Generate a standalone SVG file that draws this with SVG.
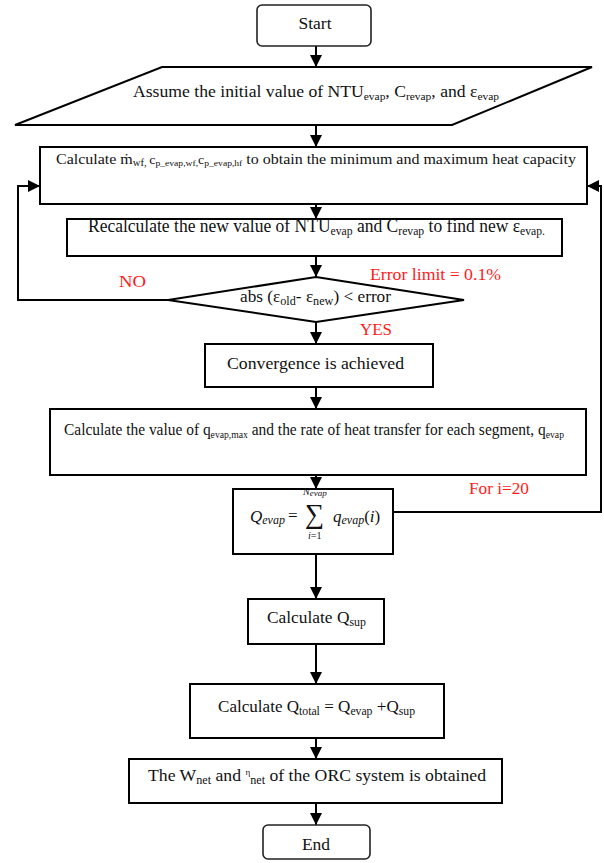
<svg xmlns="http://www.w3.org/2000/svg" width="604" height="863" viewBox="0 0 604 863" font-family="'Liberation Serif', 'DejaVu Serif', serif">
<defs>
<marker id="ah" markerUnits="userSpaceOnUse" markerWidth="12" markerHeight="12" refX="12" refY="6" orient="auto">
<path d="M0,0 L12,6 L0,12 z" fill="#000"/>
</marker>
<style>
.box{fill:#fff;stroke:#000;stroke-width:2}
.term{fill:#fff;stroke:#222;stroke-width:1.6}
.t{fill:#111}
.red{fill:#ff1a1a}
.ln{stroke:#000;stroke-width:2;fill:none}
.m{font-style:italic;fill:#111}
</style>
</defs>
<rect width="604" height="863" fill="#fff"/>

<g id="connectors">
<line class="ln" x1="316" y1="46" x2="316" y2="67" marker-end="url(#ah)"/>
<line class="ln" x1="316" y1="125" x2="316" y2="147" marker-end="url(#ah)"/>
<line class="ln" x1="316" y1="204" x2="316" y2="219" marker-end="url(#ah)"/>
<line class="ln" x1="316" y1="256" x2="316" y2="277" marker-end="url(#ah)"/>
<line class="ln" x1="316" y1="322" x2="316" y2="344" marker-end="url(#ah)"/>
<line class="ln" x1="316" y1="387" x2="316" y2="409" marker-end="url(#ah)"/>
<line class="ln" x1="316" y1="475" x2="316" y2="489" marker-end="url(#ah)"/>
<line class="ln" x1="316" y1="554" x2="316" y2="599" marker-end="url(#ah)"/>
<line class="ln" x1="316" y1="644" x2="316" y2="684" marker-end="url(#ah)"/>
<line class="ln" x1="316" y1="738" x2="316" y2="759" marker-end="url(#ah)"/>
<line class="ln" x1="316" y1="803" x2="316" y2="825" marker-end="url(#ah)"/>
<polyline class="ln" points="170,300 18,300 18,186 40,186" marker-end="url(#ah)"/>
<polyline class="ln" points="393,512 601,512 601,186 587,186" marker-end="url(#ah)"/>
</g>

<g id="start">
<rect class="term" x="257" y="5" width="114" height="41" rx="5"/>
<text class="t" x="315" y="29" font-size="17.5" text-anchor="middle">Start</text>
</g>

<g id="assume">
<polygon class="box" points="162,67 592,67 452,125 15,125"/>
<text class="t" x="133" y="97" font-size="17" textLength="366" lengthAdjust="spacingAndGlyphs">Assume the initial value of NTU<tspan font-size="11" dy="3">evap</tspan><tspan dy="-3">, C</tspan><tspan font-size="11" dy="3">revap</tspan><tspan dy="-3">, and ε</tspan><tspan font-size="11" dy="3">evap</tspan></text>
</g>

<g id="calc-m">
<rect class="box" x="40" y="147" width="547" height="57"/>
<text class="t" x="56" y="164" font-size="15" textLength="520" lengthAdjust="spacingAndGlyphs">Calculate ṁ<tspan font-size="10" dy="2">wf, </tspan><tspan font-size="13" dy="-2">c</tspan><tspan font-size="9" dy="2">p_evap,wf,</tspan><tspan font-size="13" dy="-2">c</tspan><tspan font-size="9" dy="2">p_evap,hf</tspan><tspan dy="-2"> to obtain the minimum and maximum heat capacity</tspan></text>
</g>

<g id="recalc">
<rect class="box" x="67" y="219" width="495" height="37"/>
<text class="t" x="88" y="232" font-size="18" textLength="457" lengthAdjust="spacingAndGlyphs">Recalculate the new value of NTU<tspan font-size="12" dy="3">evap</tspan><tspan dy="-3"> and C</tspan><tspan font-size="12" dy="3">revap</tspan><tspan dy="-3"> to find new ε</tspan><tspan font-size="12" dy="3">evap.</tspan></text>
</g>

<g id="decision">
<polygon class="box" points="316,277 464,300 316,322 168,300"/>
<text class="t" x="240" y="302" font-size="17" textLength="151" lengthAdjust="spacingAndGlyphs">abs (ε<tspan font-size="12" dy="3">old</tspan><tspan dy="-3">- ε</tspan><tspan font-size="12" dy="3">new</tspan><tspan dy="-3">) &lt; error</tspan></text>
<text class="red" x="119" y="287" font-size="17" textLength="27" lengthAdjust="spacingAndGlyphs">NO</text>
<text class="red" x="370" y="280" font-size="17" textLength="131" lengthAdjust="spacingAndGlyphs">Error limit = 0.1%</text>
<text class="red" x="360" y="335" font-size="17" textLength="32" lengthAdjust="spacingAndGlyphs">YES</text>
</g>

<g id="converge">
<rect class="box" x="205" y="344" width="228" height="43"/>
<text class="t" x="227" y="369" font-size="17.5" textLength="177" lengthAdjust="spacingAndGlyphs">Convergence is achieved</text>
</g>

<g id="calc-q">
<rect class="box" x="50" y="409" width="536" height="66"/>
<text class="t" x="64" y="435" font-size="16" textLength="500" lengthAdjust="spacingAndGlyphs">Calculate the value of q<tspan font-size="10" dy="3">evap,max</tspan><tspan dy="-3"> and the rate of heat transfer for each segment, q</tspan><tspan font-size="10" dy="3">evap</tspan></text>
</g>

<g id="sum">
<rect class="box" x="233" y="489" width="160" height="65"/>
<text class="m" x="250" y="522" font-size="17">Q<tspan font-size="12" dy="2">evap</tspan></text>
<text class="t" x="288" y="521" font-size="17">=</text>
<text class="t" x="305" y="523" font-size="27">∑</text>
<text class="m" x="303" y="495" font-size="10">N<tspan font-size="9" dy="1">evap</tspan></text>
<text class="t" x="308" y="539" font-size="10"><tspan font-style="italic">i</tspan>=1</text>
<text class="m" x="333" y="522" font-size="17">q<tspan font-size="12" dy="2">evap</tspan><tspan font-style="normal" dy="-2">(</tspan>i<tspan font-style="normal">)</tspan></text>
<text class="red" x="469" y="494" font-size="17" textLength="60" lengthAdjust="spacingAndGlyphs">For i=20</text>
</g>

<g id="qsup">
<rect class="box" x="248" y="599" width="136" height="45"/>
<text class="t" x="267" y="623" font-size="17.5" textLength="99" lengthAdjust="spacingAndGlyphs">Calculate Q<tspan font-size="12" dy="3">sup</tspan></text>
</g>

<g id="qtotal">
<rect class="box" x="190" y="684" width="254" height="54"/>
<text class="t" x="218" y="712" font-size="17.5" textLength="197" lengthAdjust="spacingAndGlyphs">Calculate Q<tspan font-size="12" dy="3">total</tspan><tspan dy="-3"> = Q</tspan><tspan font-size="12" dy="3">evap</tspan><tspan dy="-3"> +Q</tspan><tspan font-size="12" dy="3">sup</tspan></text>
</g>

<g id="result">
<rect class="box" x="129" y="759" width="373" height="44"/>
<text class="t" x="148" y="781" font-size="17.5" textLength="338" lengthAdjust="spacingAndGlyphs">The W<tspan font-size="12" dy="3">net</tspan><tspan dy="-3"> and </tspan><tspan font-size="9" dy="-6">η</tspan><tspan font-size="12" dy="9">net</tspan><tspan dy="-3"> of the ORC system is obtained</tspan></text>
</g>

<g id="end">
<rect class="term" x="263" y="825" width="107" height="34" rx="5"/>
<text class="t" x="316" y="850" font-size="17.5" text-anchor="middle">End</text>
</g>
</svg>
